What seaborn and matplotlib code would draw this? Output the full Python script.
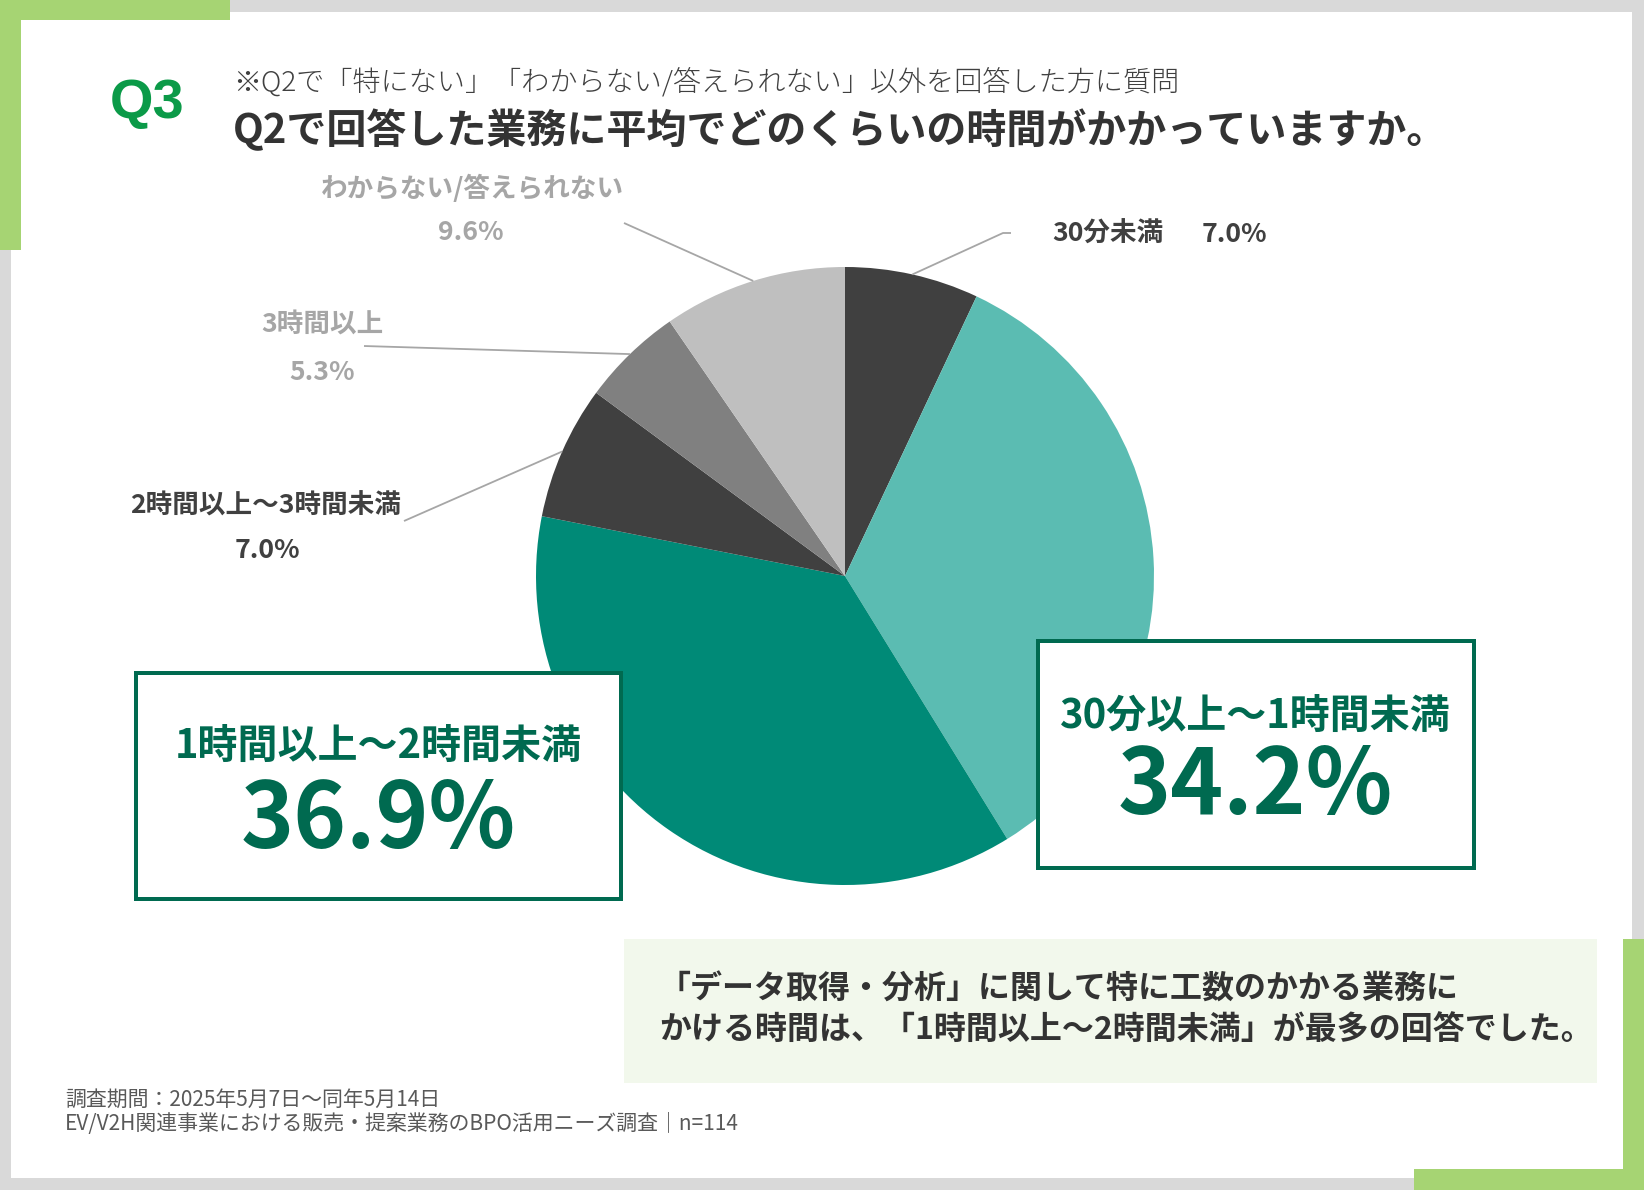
import numpy as np
import matplotlib
matplotlib.use("Agg")
import matplotlib.pyplot as plt
from matplotlib.patches import Rectangle
import seaborn as sns

# ---------------- data ----------------
categories = ["30分未満", "30分以上～1時間未満", "1時間以上～2時間未満",
              "2時間以上～3時間未満", "3時間以上", "わからない/答えられない"]
values = [7.0, 34.2, 36.9, 7.0, 5.3, 9.6]
slice_colors = ["#404040", "#5bbcb2", "#008a77", "#404040", "#808080", "#bfbfbf"]
pct_labels = [f"{v:.1f}%" for v in values]

q_label = "Q3"
subtitle = "※Q2で「特にない」「わからない/答えられない」以外を回答した方に質問"
title = "Q2で回答した業務に平均でどのくらいの時間がかかっていますか。"
note_lines = ["「データ取得・分析」に関して特に工数のかかる業務に",
              "かける時間は、「1時間以上～2時間未満」が最多の回答でした。"]
footer_lines = ["調査期間：2025年5月7日～同年5月14日",
                "EV/V2H関連事業における販売・提案業務のBPO活用ニーズ調査｜n=114"]

# ---------------- style ----------------
sns.set_theme(style="white")
plt.rcParams['font.family'] = ['Noto Sans CJK JP', 'DejaVu Sans']

W, H, DPI = 1644, 1190, 100
PT = 72 / DPI  # px -> pt

fig = plt.figure(figsize=(W / DPI, H / DPI), dpi=DPI)
fig.patch.set_facecolor("#d9d9d9")

bg = fig.add_axes([0, 0, 1, 1], zorder=0)
bg.set_xlim(0, W); bg.set_ylim(H, 0); bg.axis("off")

GREEN_ACC = "#a6d473"
bg.add_patch(Rectangle((11, 12), 1621, 1166, facecolor="white", edgecolor="none"))
bg.add_patch(Rectangle((0, 0), 230, 20, facecolor=GREEN_ACC, edgecolor="none"))
bg.add_patch(Rectangle((0, 0), 21, 250, facecolor=GREEN_ACC, edgecolor="none"))
bg.add_patch(Rectangle((1414, 1169), 230, 21, facecolor=GREEN_ACC, edgecolor="none"))
bg.add_patch(Rectangle((1623, 939), 21, 251, facecolor=GREEN_ACC, edgecolor="none"))

# ---------------- pie ----------------
CX, CY, R = 845, 576, 309
pax = fig.add_axes([(CX - R) / W, (H - CY - R) / H, 2 * R / W, 2 * R / H], zorder=1)
pax.pie(values, colors=slice_colors, startangle=90, counterclock=False, radius=1,
        wedgeprops=dict(linewidth=0, edgecolor="none"))
pax.set_xlim(-1, 1); pax.set_ylim(-1, 1); pax.set_aspect("equal"); pax.axis("off")

# ---------------- overlay ----------------
fg = fig.add_axes([0, 0, 1, 1], zorder=2)
fg.set_xlim(0, W); fg.set_ylim(H, 0); fg.axis("off"); fg.patch.set_alpha(0)

cum = np.concatenate([[0], np.cumsum(values)])
mid_deg = (cum[:-1] + cum[1:]) / 2 / 100 * 360
edge_pts = [(CX + R * np.sin(np.radians(a)), CY - R * np.cos(np.radians(a))) for a in mid_deg]

LEAD = "#a6a6a6"
leader_ends = {0: [(1011, 233), (1003, 233)], 3: [(404, 521)], 4: [(364, 346)], 5: [(624, 223)]}
for i, pts in leader_ends.items():
    xs = [p[0] for p in pts] + [edge_pts[i][0]]
    ys = [p[1] for p in pts] + [edge_pts[i][1]]
    fg.plot(xs, ys, color=LEAD, lw=1.3, solid_capstyle="butt")

LBL = 26.6 * PT
GRAY_T = "#a6a6a6"
DARK_T = "#404040"
# わからない/答えられない
fg.text(472, 189, categories[5], ha="center", va="center", fontsize=LBL, color=GRAY_T, fontweight="bold")
fg.text(471, 233, pct_labels[5], ha="center", va="center", fontsize=LBL, color=GRAY_T, fontweight="bold")
# 3時間以上
fg.text(322, 325, categories[4], ha="center", va="center", fontsize=LBL, color=GRAY_T, fontweight="bold")
fg.text(322, 372, pct_labels[4], ha="center", va="center", fontsize=LBL, color=GRAY_T, fontweight="bold")
# 2時間以上～3時間未満
fg.text(266, 506, categories[3], ha="center", va="center", fontsize=LBL, color=DARK_T, fontweight="bold")
fg.text(267, 550, pct_labels[3], ha="center", va="center", fontsize=LBL, color=DARK_T, fontweight="bold")
# 30分未満
fg.text(1052, 234, categories[0], ha="left", va="center", fontsize=LBL, color=DARK_T, fontweight="bold")
fg.text(1202, 234, pct_labels[0], ha="left", va="center", fontsize=LBL, color=DARK_T, fontweight="bold")

# highlight boxes
BOX_C = "#006a50"
fg.add_patch(Rectangle((136, 673), 485, 226, facecolor="white", edgecolor=BOX_C, lw=4 * PT))
fg.text(378, 746, categories[2], ha="center", va="center", fontsize=40 * PT, color=BOX_C, fontweight="bold")
fg.text(378, 821, pct_labels[2], ha="center", va="center", fontsize=90 * PT, color=BOX_C, fontweight="bold")

fg.add_patch(Rectangle((1038, 641), 436, 227, facecolor="white", edgecolor=BOX_C, lw=4 * PT))
fg.text(1255, 716, categories[1], ha="center", va="center", fontsize=40 * PT, color=BOX_C, fontweight="bold")
fg.text(1255, 787, pct_labels[1], ha="center", va="center", fontsize=90 * PT, color=BOX_C, fontweight="bold")

# header
fg.text(110, 104, q_label, ha="left", va="center", fontsize=56 * PT, color="#0b9a48",
        fontweight="bold", family=["Liberation Sans", "DejaVu Sans"])
fg.text(233, 82, subtitle, ha="left", va="center", fontsize=28.1 * PT, color="#404040", fontweight="light")
fg.text(233, 131, title, ha="left", va="center", fontsize=40.05 * PT, color="#333333", fontweight="bold")

# note box
fg.add_patch(Rectangle((624, 939), 973, 144, facecolor="#f2f8ec", edgecolor="none"))
fg.text(659, 990, note_lines[0], ha="left", va="center", fontsize=32 * PT, color="#333333", fontweight="bold")
fg.text(659, 1030, note_lines[1], ha="left", va="center", fontsize=32 * PT, color="#333333", fontweight="bold")

# footer
fg.text(65, 1100, footer_lines[0], ha="left", va="center", fontsize=20.9 * PT, color="#595959")
fg.text(65, 1124, footer_lines[1], ha="left", va="center", fontsize=20.9 * PT, color="#595959")

fig.savefig("out.png", dpi=DPI, facecolor=fig.get_facecolor())
